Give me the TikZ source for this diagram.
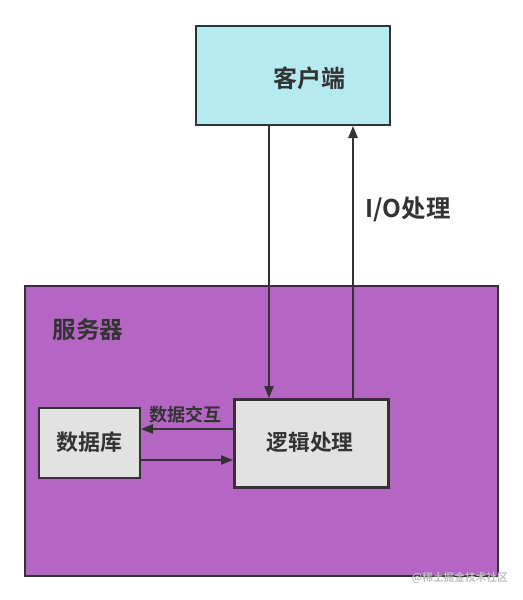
\documentclass[tikz,border=0pt]{standalone}
\usepackage{fontspec}
\setmainfont{Noto Sans CJK SC}[BoldFont={Noto Sans CJK SC Bold}]
\newfontfamily\cjk{Noto Sans CJK SC Bold}
\usetikzlibrary{arrows.meta}
\definecolor{clientfill}{HTML}{B4EAF0}
\definecolor{serverfill}{HTML}{B566C5}
\definecolor{boxfill}{HTML}{E2E2E2}
\definecolor{ink}{HTML}{333333}
\tikzset{
  box/.style={draw=ink, line width=1.5pt, inner sep=0pt, font=\cjk, text=ink},
  conn/.style={draw=ink, line width=1.2pt, -{Triangle[length=9pt,width=7pt]}},
  lbl/.style={font=\cjk, text=ink, inner sep=0pt}
}
\begin{document}
\begin{tikzpicture}[x=0.75pt,y=-0.75pt]
\useasboundingbox (0,0) rectangle (522,600);
\fill[white] (0,0) rectangle (522,600);
% server
\node[box, fill=serverfill, minimum width=473*0.75pt, minimum height=290*0.75pt, anchor=north west] (server) at (24,285) {};
\node[lbl, font=\cjk\fontsize{17.7}{19}\selectfont] (servertxt) at (88,330) {服务器};
% client
\node[box, fill=clientfill, minimum width=194*0.75pt, minimum height=99*0.75pt, anchor=north west] (client) at (195,25) {};
\node[lbl, font=\cjk\fontsize{18}{20}\selectfont] (clienttxt) at (309,78) {客户端};
% logic
\node[box, fill=boxfill, line width=2.3pt, minimum width=154*0.75pt, minimum height=88*0.75pt, anchor=north west] (logic) at (233,398) {};
\node[lbl, font=\cjk\fontsize{16.3}{18}\selectfont] (logictxt) at (310,442) {逻辑处理};
% db
\node[box, fill=boxfill, minimum width=101*0.75pt, minimum height=70*0.75pt, anchor=north west] (db) at (38,407) {};
\node[lbl, font=\cjk\fontsize{16.5}{18}\selectfont] (dbtxt) at (89,442) {数据库};
% connectors
\draw[conn] (client.south -| 269,0) -- (logic.north -| 269,0);
\draw[conn] (logic.north -| 353,0) -- (client.south -| 353,0);
\draw[conn] (logic.west |- 0,429) -- (db.east |- 0,429);
\draw[conn] (db.east |- 0,460) -- (logic.west |- 0,460);
% labels
\node[lbl, font=\cjk\fontsize{18.3}{20}\selectfont] (io) at (408,209) {I/O处理};
\node[lbl, font=\cjk\fontsize{13.5}{15}\selectfont] (xchg) at (185,415) {数据交互};
\node[lbl, text=black!25, font=\cjk\fontsize{8}{9}\selectfont, anchor=east] (wm) at (508,578) {@稀土掘金技术社区};
\end{tikzpicture}
\end{document}
